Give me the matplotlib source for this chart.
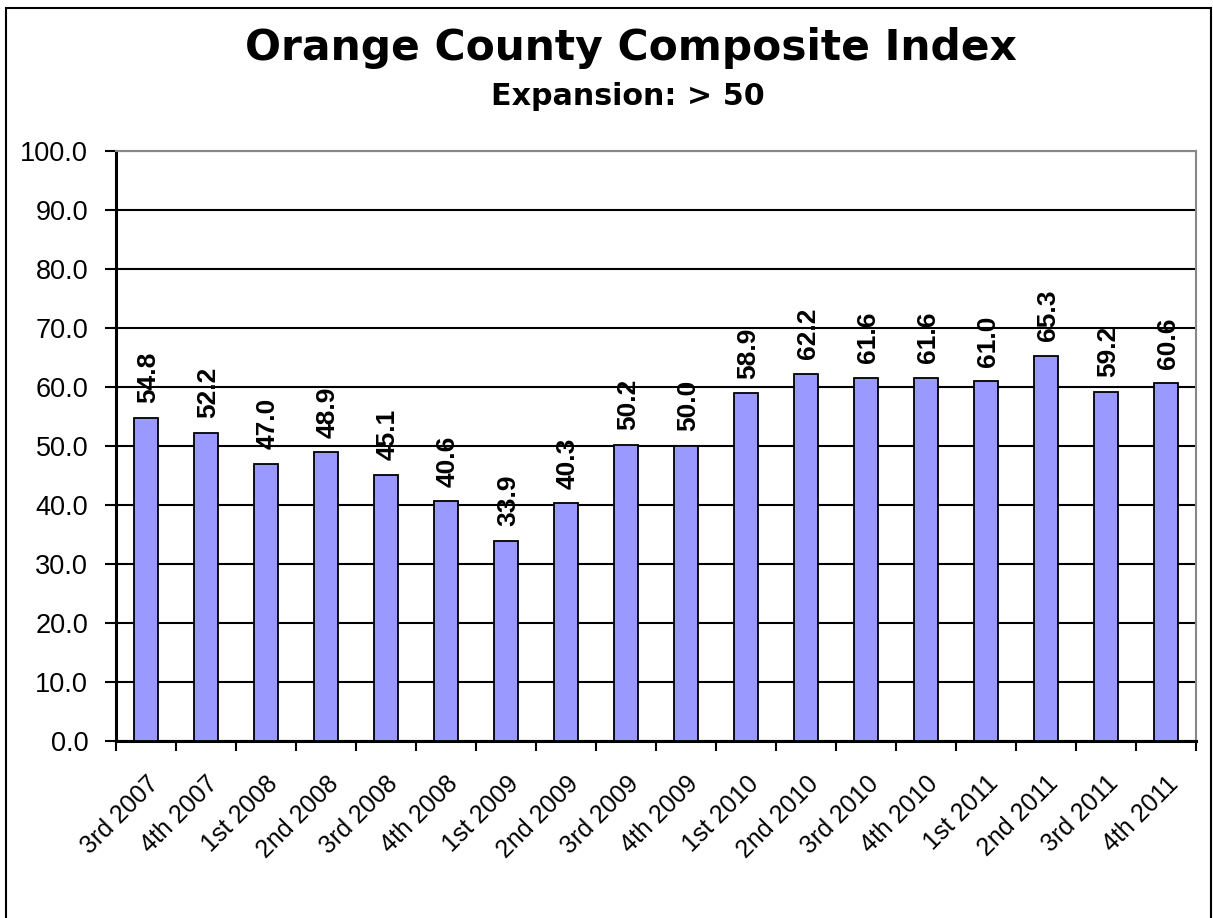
import matplotlib
matplotlib.use("Agg")
import matplotlib.pyplot as plt
from matplotlib.patches import Rectangle
import numpy as np

categories = ["3rd 2007", "4th 2007", "1st 2008", "2nd 2008", "3rd 2008", "4th 2008",
              "1st 2009", "2nd 2009", "3rd 2009", "4th 2009", "1st 2010", "2nd 2010",
              "3rd 2010", "4th 2010", "1st 2011", "2nd 2011", "3rd 2011", "4th 2011"]
values = [54.8, 52.2, 47.0, 48.9, 45.1, 40.6, 33.9, 40.3, 50.2, 50.0,
          58.9, 62.2, 61.6, 61.6, 61.0, 65.3, 59.2, 60.6]
yticks = [0, 10, 20, 30, 40, 50, 60, 70, 80, 90, 100]

plt.rcParams['font.family'] = ['Liberation Sans', 'DejaVu Sans']

W, H = 1213, 918
fig = plt.figure(figsize=(W / 100, H / 100), dpi=100)
fig.patch.set_facecolor('white')

# outer border
fig.patches.append(Rectangle((6 / W, -0.05), (1211 - 6) / W, 1 - 8 / H + 0.05,
                             transform=fig.transFigure, fill=False,
                             edgecolor='black', linewidth=1.5))

ax = fig.add_axes([116 / W, 1 - 741 / H, (1196 - 116) / W, (741 - 151) / H])
x = np.arange(len(categories))
ax.bar(x, values, width=0.4, color='#9999FF', edgecolor='black', linewidth=1.3, zorder=3)

ax.set_xlim(-0.5, len(categories) - 0.5)
ax.set_ylim(0, 100)
ax.set_yticks(yticks)
ax.set_yticklabels([f"{v:.1f}" for v in yticks], fontsize=19.5)
ax.grid(axis='y', color='black', linewidth=1.5, zorder=1)
ax.set_axisbelow(True)

ax.set_xticks(x)
ax.set_xticklabels(categories, rotation=45, ha='right', va='top',
                   rotation_mode='anchor', fontsize=18)
ax.tick_params(axis='x', which='major', length=0, pad=22)
ax.set_xticks(np.arange(-0.5, len(categories)), minor=True)
ax.tick_params(axis='x', which='minor', length=7, width=1.5, direction='out')
ax.tick_params(axis='y', length=8, width=1.5, direction='out', pad=12)

for s in ['left', 'bottom']:
    ax.spines[s].set_color('black')
    ax.spines[s].set_linewidth(2.2)
for s in ['top', 'right']:
    ax.spines[s].set_color('#888888')
    ax.spines[s].set_linewidth(1.5)

for xi, v in zip(x, values):
    ax.annotate(f"{v:.1f}", (xi, v), xytext=(1.5, 10.5), textcoords='offset points',
                rotation=90, ha='center', va='bottom', fontsize=19, fontweight='bold')

fig.text(631 / W, 1 - 60 / H, "Orange County Composite Index", ha='center', va='baseline',
         fontsize=30.5, fontweight='bold', family='DejaVu Sans')
fig.text(628 / W, 1 - 105 / H, "Expansion: > 50", ha='center', va='baseline',
         fontsize=21.7, fontweight='bold', family='DejaVu Sans')

fig.savefig("out.png", dpi=100)
